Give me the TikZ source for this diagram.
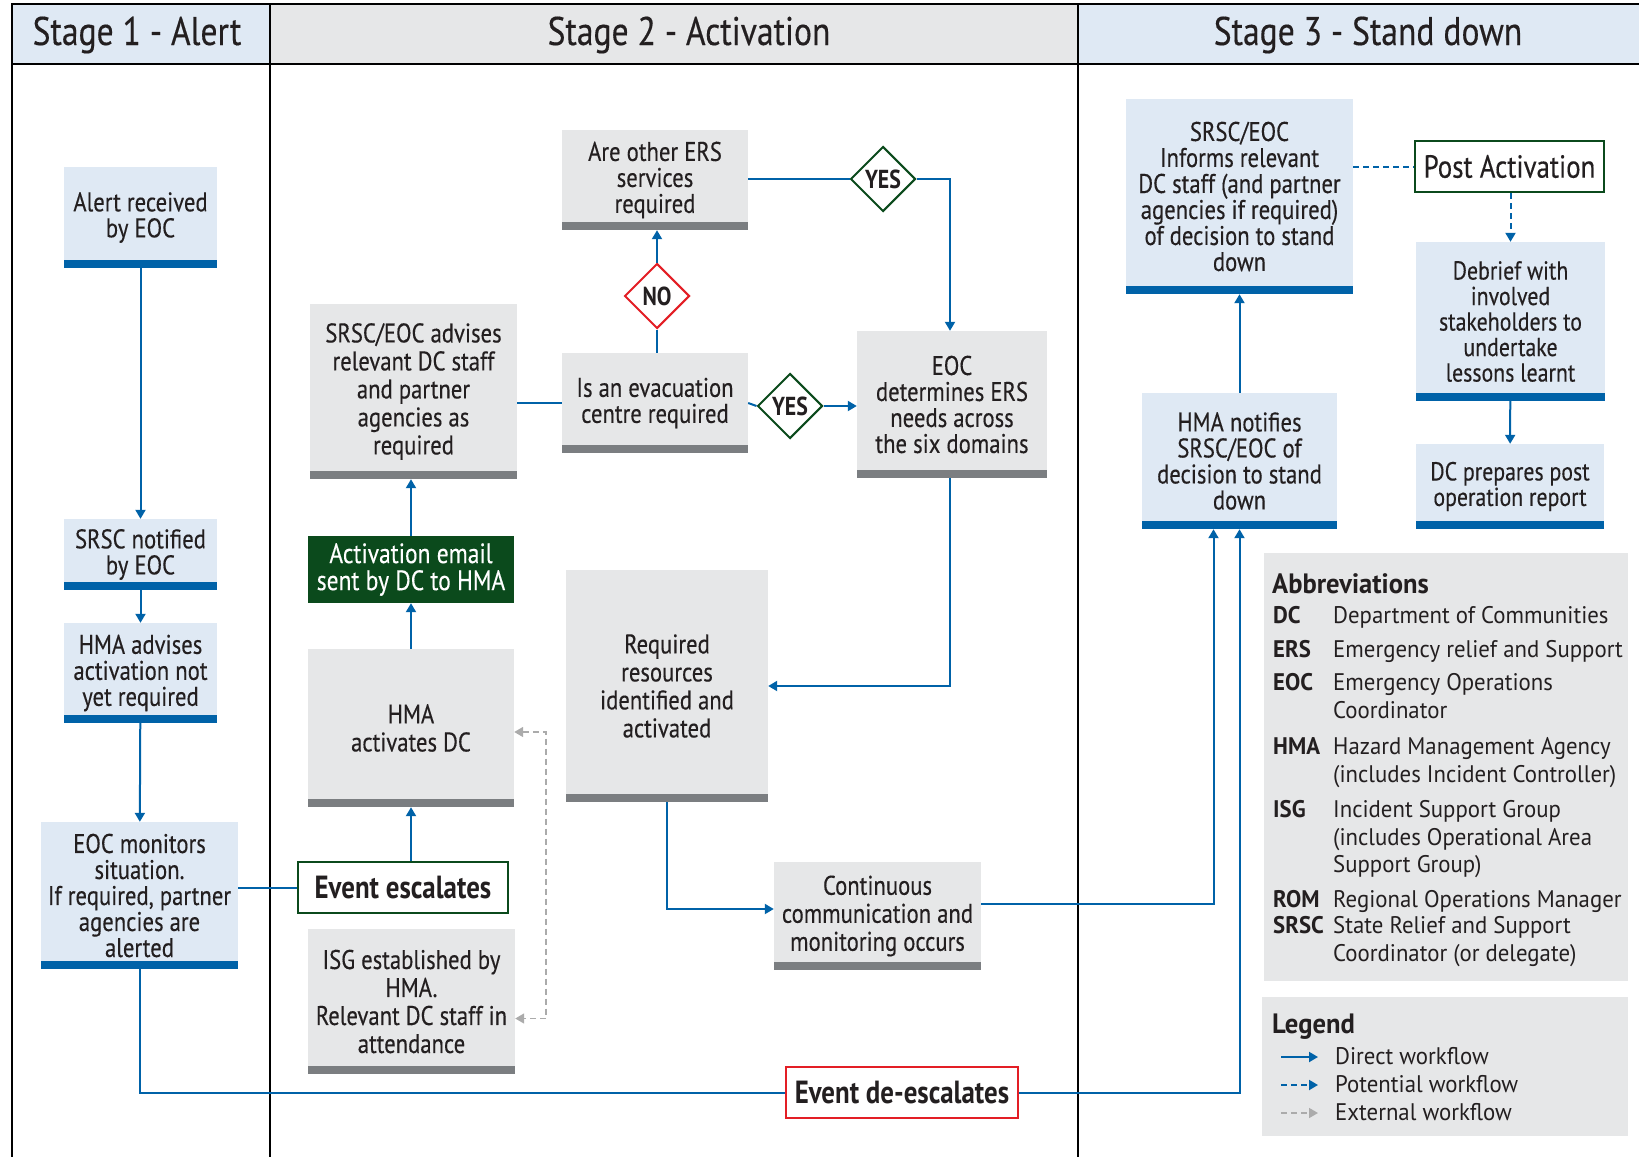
\documentclass[tikz,border=0pt]{standalone}
\usepackage{fontspec}
\setmainfont[FakeStretch=0.84, UprightFeatures={FakeBold=0.3}]{PT Sans}
\newfontfamily\keyfont[FakeStretch=0.95]{PT Sans}
\usetikzlibrary{shapes.geometric,arrows.meta}

\definecolor{flowblue}{HTML}{0062A8}
\definecolor{paleblue}{HTML}{DFE9F4}
\definecolor{palegray}{HTML}{E6E7E8}
\definecolor{bargray}{HTML}{7B7E81}
\definecolor{darkgreen}{HTML}{0B4A1C}
\definecolor{alertred}{HTML}{E31E25}
\definecolor{ink}{HTML}{231F20}
\definecolor{extgray}{HTML}{ABABAB}

\tikzset{
  frame/.style={line width=2.5pt, black},
  stagehead/.style={text=ink, font=\fontsize{40}{44}\selectfont},
  link/.style={draw=flowblue, line width=2pt},
  flow/.style={link, -{Triangle[length=9pt,width=10pt]}},
  maybe/.style={flow, dash pattern=on 6pt off 4pt},
  maybeline/.style={link, dash pattern=on 6pt off 4pt},
  extern/.style={draw=extgray, line width=1.6pt, dash pattern=on 6pt off 4pt,
    -{Triangle[length=9pt,width=10pt]}},
  box/.style={inner sep=2pt, align=center, text=ink,
    font=\fontsize{27}{26}\selectfont,
    path picture={\fill[#1] ([yshift=8pt]path picture bounding box.south west)
      rectangle (path picture bounding box.south east);}},
  bluebox/.style={box=flowblue, fill=paleblue},
  graybox/.style={box=bargray, fill=palegray},
  tag/.style={draw=#1, line width=2.5pt, fill=white, text=ink, inner sep=0pt,
    font=\fontsize{32}{34}\selectfont\bfseries},
  choice/.style={diamond, draw=#1, line width=2pt, fill=white, inner sep=0pt,
    minimum width=65pt, minimum height=65pt, text=ink,
    font=\fontsize{26}{26}\selectfont\bfseries},
  abbrkey/.style={text=ink, inner sep=0pt, font=\keyfont\fontsize{24}{26}\selectfont\bfseries},
  abbrtxt/.style={text=ink, inner sep=0pt, font=\keyfont\fontsize{24}{26}\selectfont},
  paneltitle/.style={text=ink, inner sep=0pt, font=\keyfont\fontsize{28}{30}\selectfont\bfseries}
}

\begin{document}
\begin{tikzpicture}[x=1pt,y=-1pt]
\useasboundingbox (0,0) rectangle (1639,1157);

\fill[paleblue] (12,4) rectangle (270,64);
\fill[palegray] (270,4) rectangle (1078,64);
\fill[paleblue] (1078,4) rectangle (1639,64);
\draw[frame] (1639,4) -- (12,4) -- (12,1157);
\draw[frame] (12,64) -- (1639,64);
\draw[frame] (270,4) -- (270,1157);
\draw[frame] (1078,4) -- (1078,1157);
\node[stagehead] (head1) at (137,35) {Stage 1 - Alert};
\node[stagehead] (head2) at (689,35) {Stage 2 - Activation};
\node[stagehead] (head3) at (1368,35) {Stage 3 - Stand down};

% stage 1
\node[bluebox, minimum width=153pt, minimum height=101pt] (alert) at (140.5,217.5) {Alert received\\by EOC};
\node[bluebox, minimum width=153pt, minimum height=71pt] (srsc) at (140.5,554.5) {SRSC notified\\by EOC};
\node[bluebox, minimum width=153pt, minimum height=100pt] (hmaadv) at (140.5,673) {HMA advises\\activation not\\yet required};
\node[bluebox, minimum width=197pt, minimum height=147pt] (eocmon) at (139.5,895.5) {EOC monitors\\situation.\\If required, partner\\agencies are\\alerted};

% stage 2
\node[graybox, minimum width=186pt, minimum height=100pt] (ersq) at (655,180) {Are other ERS\\services\\required};
\node[graybox, minimum width=186pt, minimum height=100pt] (evac) at (655,403) {Is an evacuation\\centre required};
\node[graybox, minimum width=190pt, minimum height=147pt] (eocdet) at (952,404.5) {EOC\\determines ERS\\needs across\\the six domains};
\node[graybox, minimum width=207pt, minimum height=175pt, font=\fontsize{27}{28}\selectfont] (advise) at (413.5,391.5) {SRSC/EOC advises\\relevant DC staff\\and partner\\agencies as\\required};
\node[graybox, minimum width=202pt, minimum height=232pt, font=\fontsize{27}{28}\selectfont] (resources) at (667,686) {Required\\resources\\identified and\\activated};
\node[graybox, minimum width=206pt, minimum height=158pt, font=\fontsize{27}{28}\selectfont] (hmaact) at (411,728) {HMA\\activates DC};
\node[graybox, minimum width=207pt, minimum height=145pt, font=\fontsize{27}{28}\selectfont] (isg) at (411.5,1001.5) {ISG established by\\HMA.\\Relevant DC staff in\\attendance};
\node[graybox, minimum width=207pt, minimum height=108pt, font=\fontsize{27}{28}\selectfont] (comm) at (877.5,916) {Continuous\\communication and\\monitoring occurs};
\node[fill=darkgreen, text=white, align=center, inner sep=0pt, font=\fontsize{28}{27}\selectfont,
  minimum width=206pt, minimum height=67pt] (email) at (411,569.5) {Activation email\\sent by DC to HMA};
\node[tag=darkgreen, minimum width=210pt, minimum height=51pt] (escal) at (403,887.5) {Event escalates};
\node[tag=alertred, minimum width=232pt, minimum height=51pt] (deesc) at (902,1092.5) {Event de-escalates};
\node[choice=alertred] (no) at (657,296) {NO};
\node[choice=darkgreen] (yes1) at (790,406) {YES};
\node[choice=darkgreen] (yes2) at (883,179) {YES};

% stage 3
\node[bluebox, minimum width=227pt, minimum height=195pt] (inform) at (1239.5,196.5) {SRSC/EOC\\Informs relevant\\DC staff (and partner\\agencies if required)\\of decision to stand\\down};
\node[draw=darkgreen, line width=2.5pt, fill=white, text=ink, inner sep=0pt, font=\fontsize{32}{34}\selectfont,
  minimum width=189pt, minimum height=51pt] (post) at (1509.5,166.5) {Post Activation};
\node[bluebox, minimum width=189pt, minimum height=159pt, font=\fontsize{26}{25.5}\selectfont] (debrief) at (1510.5,321.5) {Debrief with\\involved\\stakeholders to\\undertake\\lessons learnt};
\node[bluebox, minimum width=188pt, minimum height=85pt, font=\fontsize{26}{25.5}\selectfont] (dcprep) at (1510,486.5) {DC prepares post\\operation report};
\node[bluebox, minimum width=195pt, minimum height=136pt] (hman) at (1239.5,461) {HMA notifies\\SRSC/EOC of\\decision to stand\\down};

% connectors
\draw[flow] (alert) -- (srsc);
\draw[flow] (srsc) -- (hmaadv);
\draw[flow] (hmaadv) -- (eocmon);
\draw[link] (escal.west -| eocmon.east) -- (escal.west);
\draw[link] (eocmon.south) |- (deesc.west);
\draw[flow] (deesc.east) -| (hman.south);
\draw[flow] (escal.north -| hmaact.south) -- (hmaact.south);
\draw[flow] (hmaact) -- (email);
\draw[flow] (email.north) -- (email.north |- advise.south);
\draw[link] (advise.east |- evac.west) -- (evac.west);
\draw[link] (evac.east) -- (yes1.west);
\draw[flow] (yes1.east) -- (yes1.east -| eocdet.west);
\draw[link] (evac.north -| no.south) -- (no.south);
\draw[flow] (no.north) -- (no.north |- ersq.south);
\draw[link] (ersq.east |- yes2.west) -- (yes2.west);
\draw[flow] (yes2.east) -| ([xshift=-2pt]eocdet.north);
\draw[flow] ([xshift=-2pt]eocdet.south) |- (resources.east);
\draw[flow] (resources.south) |- ([yshift=7pt]comm.west);
\draw[flow] ([yshift=12pt]comm.east) -| ([xshift=-26pt]hman.south);
\draw[extern, {Triangle[length=9pt,width=10pt]}-{Triangle[length=9pt,width=10pt]}] ([yshift=-4pt]hmaact.east) -- ++(32,0) |- ([yshift=-17pt]isg.east);
\draw[flow] (hman) -- (inform);
\draw[maybeline] (post.west -| inform.east) -- (post.west);
\draw[maybe] (post.south -| debrief.north) -- (debrief.north);
\draw[flow] (debrief) -- (dcprep);

% abbreviations
\fill[palegray] (1264,553) rectangle (1628,981);
\node[paneltitle, anchor=base west] (abbrhead) at (1272,593) {Abbreviations};
\foreach \yy/\ab/\txt in {623/DC/Department of Communities,
    657/ERS/Emergency relief and Support,
    690/EOC/Emergency Operations, 718//Coordinator,
    754/HMA/Hazard Management Agency, 782//(includes Incident Controller),
    817/ISG/Incident Support Group, 845//(includes Operational Area, 872//Support Group),
    907/ROM/Regional Operations Manager,
    933/SRSC/State Relief and Support, 961//Coordinator (or delegate)} {
  \node[abbrkey, anchor=base west] (key\yy) at (1273,\yy) {\ab};
  \node[abbrtxt, anchor=base west] (txt\yy) at (1333,\yy) {\txt};
}

% legend
\fill[palegray] (1262,997) rectangle (1628,1136);
\node[paneltitle, anchor=base west] (leghead) at (1272,1033) {Legend};
\node[abbrtxt, anchor=base west] (legdirect) at (1335,1064) {Direct workflow};
\node[abbrtxt, anchor=base west] (legmaybe) at (1335,1092) {Potential workflow};
\node[abbrtxt, anchor=base west] (legext) at (1335,1120) {External workflow};
\draw[flow] ([xshift=-54pt,yshift=7pt]legdirect.base west) -- ([xshift=-17pt,yshift=7pt]legdirect.base west);
\draw[maybe] ([xshift=-54pt,yshift=7pt]legmaybe.base west) -- ([xshift=-17pt,yshift=7pt]legmaybe.base west);
\draw[extern] ([xshift=-54pt,yshift=7pt]legext.base west) -- ([xshift=-17pt,yshift=7pt]legext.base west);
\end{tikzpicture}
\end{document}
